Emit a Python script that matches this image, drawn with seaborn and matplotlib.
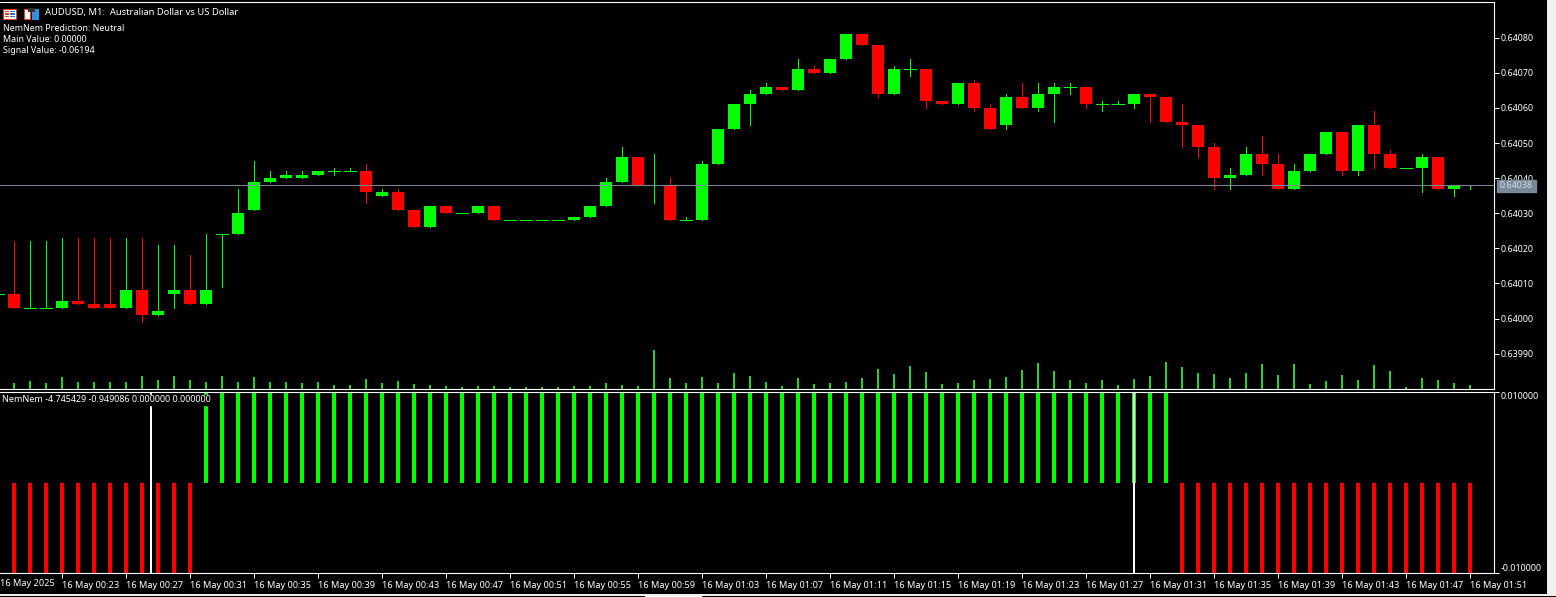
import matplotlib
matplotlib.use('Agg')
import matplotlib.pyplot as plt
from matplotlib.patches import Rectangle
import pandas as pd
import seaborn as sns

# Candles, in points above 0.64000 (first bar is the cut off one at the left edge)
opens = [7, 7, 3, 3, 3, 5, 4, 4, 3, 8, 1, 7, 8, 4, 24, 24, 31, 39, 40, 40, 41, 42, 42, 42, 35, 36, 31, 26, 32, 30, 30,
         32, 28, 28, 28, 28, 28, 29, 32, 39, 46, 38, 38, 28, 28, 44, 54, 61, 64, 66, 65, 71, 70, 74, 81, 78, 64, 71,
         71, 62, 61, 67, 60, 55, 63, 60, 64, 66, 66, 61, 61, 61, 64, 63, 56, 55, 49, 40, 41, 47, 44, 37, 42, 47, 53,
         42, 55, 47, 43, 43, 46, 37, 38]
highs = [7, 22, 22, 22, 23, 23, 23, 23, 23, 23, 21, 21, 18, 24, 24, 37, 45, 42, 42, 42, 42, 43, 43, 44, 37, 37, 31, 32,
         32, 30, 32, 32, 28, 28, 28, 28, 29, 32, 40, 49, 46, 47, 40, 29, 45, 54, 61, 65, 67, 66, 74, 72, 74, 81, 81,
         78, 72, 74, 71, 62, 67, 68, 61, 64, 67, 67, 67, 67, 66, 62, 62, 64, 64, 63, 61, 55, 50, 43, 49, 52, 47, 44,
         47, 53, 53, 55, 59, 48, 43, 47, 46, 38, 38]
lows = [7, 3, 3, 3, 3, 4, 3, 3, 3, -1, 1, 3, 4, 4, 9, 24, 31, 39, 40, 40, 41, 41, 42, 33, 35, 31, 26, 26, 30, 30, 30,
        28, 28, 28, 28, 28, 28, 29, 32, 39, 38, 33, 28, 28, 28, 44, 54, 55, 64, 65, 65, 70, 70, 74, 78, 63, 64, 69,
        60, 61, 61, 59, 54, 54, 60, 59, 56, 64, 60, 59, 61, 60, 56, 56, 49, 46, 37, 37, 41, 41, 37, 37, 42, 47, 41,
        41, 43, 43, 43, 36, 37, 35, 37]
closes = [7, 3, 3, 3, 5, 4, 3, 3, 8, 1, 2, 8, 4, 8, 24, 30, 39, 40, 41, 41, 42, 42, 42, 36, 36, 31, 26, 32, 30, 30, 32,
          28, 28, 28, 28, 28, 29, 32, 39, 46, 38, 38, 28, 28, 44, 54, 61, 64, 66, 65, 71, 70, 74, 81, 78, 64, 71, 71,
          62, 61, 67, 60, 54, 63, 60, 64, 66, 66, 61, 61, 61, 64, 63, 56, 55, 49, 40, 41, 47, 44, 37, 42, 47, 53, 42,
          55, 47, 43, 43, 46, 37, 38, 38]
bars = list(range(-1, 92))

tick_volume = [6, 8, 6, 12, 7, 7, 7, 7, 13, 9, 13, 9, 7, 13, 7, 12, 7, 7, 6, 7, 4, 4, 10, 6, 8,
               5, 4, 3, 2, 3, 3, 2, 2, 2, 2, 3, 3, 6, 4, 3, 39, 11, 6, 12, 6, 16, 13, 7, 3, 11,
               5, 6, 7, 11, 20, 15, 23, 17, 5, 6, 9, 10, 12, 19, 26, 18, 9, 6,
               9, 4, 10, 13, 27, 22, 16, 15, 11, 16, 25, 14, 25, 5, 8, 14, 9, 24, 18, 2, 11, 9, 6, 4]
signal = [-0.01] * 12 + [0.01] * 61 + [-0.01] * 19

price_ticks = [0.6399, 0.6400, 0.6401, 0.6402, 0.6403, 0.6404, 0.6405, 0.6406, 0.6407, 0.6408]
bid = 0.64038
time_ticks = [3, 7, 11, 15, 19, 23, 27, 31, 35, 39, 43, 47, 51, 55, 59, 63, 67, 71, 75, 79, 83, 87, 91]
time_labels = ['00:23', '00:27', '00:31', '00:35', '00:39', '00:43', '00:47', '00:51', '00:55', '00:59', '01:03',
               '01:07', '01:11', '01:15', '01:19', '01:23', '01:27', '01:31', '01:35', '01:39', '01:43', '01:47',
               '01:51']

W, H = 1556, 597
GREEN, RED, WHITE, SLATE = '#00ff00', '#ff0000', '#ffffff', '#778899'

sns.set_style('dark', {'axes.facecolor': 'black', 'figure.facecolor': '#f0f0f0', 'axes.edgecolor': 'white'})
plt.rcParams['font.family'] = ['Noto Sans', 'DejaVu Sans']
FS = 6.6
FS_NUM = 6.45
FS_INFO = 6.4


def px_axes(fig, x0, y0, x1, y1, **kw):
    return fig.add_axes([x0 / W, 1 - y1 / H, (x1 - x0) / W, (y1 - y0) / H], **kw)


fig = plt.figure(figsize=(W / 100, H / 100), dpi=100)

# black window behind everything
back = px_axes(fig, 0, 0, 1547, 594)
back.set_axis_off()
back.add_patch(Rectangle((0, 0), 1, 1, color='black', transform=back.transAxes))

xlim = (-0.906, 92.47)
df = pd.DataFrame({'bar': bars, 'open': opens, 'high': highs, 'low': lows, 'close': closes})
for col in ['open', 'high', 'low', 'close']:
    df[col] = 0.64 + df[col] * 1e-5
df['color'] = [GREEN if c >= o else RED for o, c in zip(df['open'], df['close'])]

# main chart
ax = px_axes(fig, 0, 2, 1494, 389)
ax.vlines(df['bar'], df['low'], df['high'], color=df['color'], linewidth=0.72, antialiased=False, zorder=3)
ax.bar(df['bar'], df['close'] - df['open'], bottom=df['open'], width=0.69, color=df['color'], linewidth=0,
       antialiased=False, zorder=4)
doji = df[df['open'] == df['close']]
ax.hlines(doji['close'], doji['bar'] - 0.345, doji['bar'] + 0.345, color=doji['color'], linewidth=0.72,
          antialiased=False, zorder=4)
ax.axhline(bid, color=SLATE, linewidth=0.72, antialiased=False, zorder=5)
ax.set_xlim(*xlim)
ax.set_ylim(0.6397992, 0.6409017)
ax.set_xticks([])

# tick volume along the bottom of the main chart
vol = ax.twinx()
vol.patch.set_visible(False)
sns.barplot(x=bars[1:], y=tick_volume, native_scale=True, width=0.125, color='#32cd32', saturation=1,
            errorbar=None, ax=vol, zorder=2)
vol.set_xlim(xlim[0] + 0.03, xlim[1] + 0.03)
vol.set_ylim(0, 387)
vol.set_axis_off()
for p in vol.patches:
    p.set_antialiased(False)
    p.set_linewidth(0)

# twinx puts the ticks back on the left, so the price scale goes on afterwards
ax.yaxis.tick_right()
ax.set_yticks(price_ticks)
ax.set_yticklabels([f'{p:.5f}' for p in price_ticks], color=WHITE, fontsize=FS_NUM)
ax.tick_params(axis='y', which='major', left=False, right=True, length=3.5, width=0.72, color=WHITE, pad=1.2)
ax.spines['left'].set_visible(False)
for s in ['top', 'bottom', 'right']:
    ax.spines[s].set_linewidth(0.8)

# indicator window
ind = px_axes(fig, 0, 392, 1494, 573)
sig = pd.DataFrame({'bar': bars[1:], 'signal': signal})
sig['side'] = ['up' if s > 0 else 'down' for s in signal]
sns.barplot(data=sig, x='bar', y='signal', hue='side', palette={'up': GREEN, 'down': RED}, native_scale=True,
            dodge=False, width=0.25, saturation=1, errorbar=None, legend=False, ax=ind)
for p in ind.patches:
    p.set_antialiased(False)
    p.set_linewidth(0)
ind.set_xlim(xlim[0] + 0.03, xlim[1] + 0.03)
ind.set_ylim(-0.01, 0.01)
ind.set_xlabel('')
ind.set_ylabel('')
ind.vlines([8.59], -0.01, 0.01, color=WHITE, linewidth=1.44, antialiased=False, zorder=4)
ind.vlines([69.97], -0.0078, 0.01, color=WHITE, linewidth=1.44, antialiased=False, zorder=4)
ind.vlines([70.03], -0.01, -0.0078, color=WHITE, linewidth=1.44, antialiased=False, zorder=4)
ind.yaxis.tick_right()
ind.set_yticks([-0.01, 0.01])
labs = ind.set_yticklabels(['-0.010000', '0.010000'], color=WHITE, fontsize=FS_NUM)
labs[0].set_va('bottom')
labs[1].set_va('top')
ind.set_xticks(time_ticks)
ind.set_xticklabels(['16 May ' + t for t in time_labels], color=WHITE, fontsize=FS, ha='left')
ind.tick_params(axis='both', which='major', left=False, bottom=True, right=True, length=3.5, width=0.72,
                color=WHITE, pad=1.2)
ind.tick_params(axis='x', pad=2)
ind.spines['left'].set_visible(False)
for s in ['top', 'bottom', 'right']:
    ind.spines[s].set_linewidth(0.8)

# texts and icons in pixel coordinates
top = px_axes(fig, 0, 0, W, H)
top.set_xlim(0, W)
top.set_ylim(H, 0)
top.set_axis_off()
top.patch.set_visible(False)
top.add_patch(Rectangle((0, 395), 212, 10, color='black', zorder=5))
top.text(2, 400, 'NemNem -4.745429 -0.949086 0.000000 0.000000', color=WHITE, fontsize=FS_NUM, va='center', zorder=6)
top.text(0, 583, '16 May 2025', color=WHITE, fontsize=FS, va='center')
top.text(45, 13, 'AUDUSD, M1:  Australian Dollar vs US Dollar', color=WHITE, fontsize=6.77, va='center')
top.text(3, 28.5, 'NemNem Prediction: Neutral', color=WHITE, fontsize=FS_INFO, va='center')
top.text(3, 39.5, 'Main Value: 0.00000', color=WHITE, fontsize=FS_INFO, va='center')
top.text(3, 50.5, 'Signal Value: -0.06194', color=WHITE, fontsize=FS_INFO, va='center')
top.add_patch(Rectangle((1497, 180), 39, 11.5, color=SLATE, zorder=5))
top.text(1500, 186, f'{bid:.5f}', color='#d8dde2', fontsize=FS_NUM, va='center', zorder=6)
# window icons
top.add_patch(Rectangle((3.5, 8.5), 13, 10, facecolor='white', edgecolor='#e04030', linewidth=0.8))
for yy in (10.5, 13, 15.5):
    top.add_patch(Rectangle((5, yy), 4.5, 1.5, color='#e04030', linewidth=0))
    top.add_patch(Rectangle((10.5, yy), 4.5, 1.5, color='#3070d0', linewidth=0))
top.add_patch(Rectangle((24.5, 8.5), 6, 10, facecolor='white', edgecolor='#e04030', linewidth=0.8))
top.add_patch(Rectangle((32, 8.5), 6.5, 10, facecolor='#3090e0', edgecolor='#3090e0', linewidth=0.8))
top.add_patch(Rectangle((28, 8), 7, 3.5, color='#303030', linewidth=0))
# bottom edge of the window
top.add_patch(Rectangle((0, 596), W, 1, color='black', linewidth=0))
top.add_patch(Rectangle((645, 596), 57, 1, color='white', linewidth=0))

fig.savefig('out.png', dpi=100, facecolor=fig.get_facecolor())
